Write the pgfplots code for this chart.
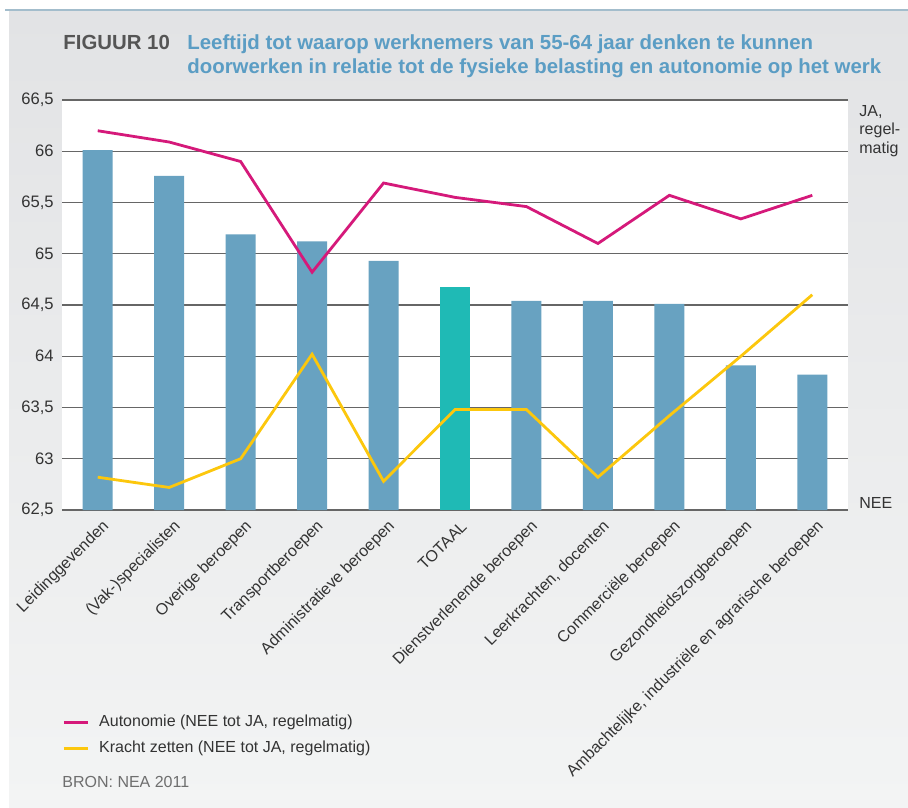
\documentclass[border=0pt]{standalone}
\usepackage{pgfplots}
\pgfplotsset{compat=1.18}
\usepackage{fontspec}
\setmainfont{Liberation Sans}
\newfontfamily\titlefont{Liberation Sans}
\definecolor{barblue}{HTML}{68A2C1}
\definecolor{tealbar}{HTML}{1FBAB5}
\definecolor{magline}{HTML}{D5197A}
\definecolor{yelline}{HTML}{FCC70D}
\definecolor{bgtop}{HTML}{E2E3E5}
\definecolor{bgbot}{HTML}{F3F4F4}
\definecolor{topline}{HTML}{A3BDCC}
\definecolor{titleblue}{HTML}{5B9DC4}
\definecolor{figgray}{HTML}{555555}
\definecolor{txt}{HTML}{333333}
\definecolor{gridc}{HTML}{666666}

\pgfplotstableread{
x y
0 66.01
1 65.76
2 65.19
3 65.12
4 64.93
6 64.54
7 64.54
8 64.51
9 63.91
10 63.82
}\bars
\pgfplotstableread{
x y
5 64.68
}\totaal
\pgfplotstableread{
x y
0 66.20
1 66.09
2 65.90
3 64.82
4 65.69
5 65.55
6 65.46
7 65.10
8 65.57
9 65.34
10 65.57
}\autonomie
\pgfplotstableread{
x y
0 62.82
1 62.72
2 63.00
3 64.02
4 62.78
5 63.48
6 63.48
7 62.82
8 63.42
9 64.00
10 64.60
}\kracht

\begin{document}
\begin{tikzpicture}
\path[use as bounding box] (0,0) rectangle (454pt,-403.5pt);
\shade[top color=bgtop, bottom color=bgbot] (4.5pt,-5pt) rectangle (454pt,-403.5pt);
\draw[topline, line width=1pt] (2.5pt,-5pt) -- (454pt,-5pt);
\node[anchor=base west, inner sep=0pt, text=figgray, font=\titlefont\bfseries\fontsize{10.2}{12}\selectfont] at (31.5pt,-25pt) {FIGUUR 10};
\node[anchor=base west, inner sep=0pt, text=titleblue, font=\titlefont\bfseries\fontsize{10.2}{12}\selectfont] at (93.5pt,-25pt) {Leeftijd tot waarop werknemers van 55-64 jaar denken te kunnen};
\node[anchor=base west, inner sep=0pt, text=titleblue, font=\titlefont\bfseries\fontsize{10.2}{12}\selectfont] at (93.5pt,-37pt) {doorwerken in relatie tot de fysieke belasting en autonomie op het werk};
\node[anchor=base west, inner sep=0pt, text=figgray!85, font=\fontsize{8}{9.6}\selectfont] at (31pt,-393.5pt) {BRON: NEA 2011};
\begin{axis}[
  at={(31pt,-255pt)}, anchor=south west,
  scale only axis, width=393pt, height=205pt,
  xmin=-0.5, xmax=10.5, ymin=62.5, ymax=66.5,
  ytick={62.5,63,63.5,64,64.5,65,65.5,66,66.5},
  xtick={0,...,10},
  xticklabels={Leidinggevenden,(Vak-)specialisten,Overige beroepen,Transportberoepen,Administratieve beroepen,TOTAAL,Dienstverlenende beroepen,{Leerkrachten, docenten},Commerciële beroepen,Gezondheidszorgberoepen,{Ambachtelijke, industriële en agrarische beroepen}},
  /pgf/number format/.cd, use comma, 1000 sep={}, assume math mode=true, /pgfplots/.cd,
  axis line style={draw=none},
  major tick length=0pt,
  tick style={draw=none},
  ymajorgrids,
  grid style={gridc, line width=0.7pt},
  axis background/.style={fill=white},
  yticklabel style={font=\fontsize{8.3}{10}\selectfont, text=txt, inner sep=0pt, xshift=-4pt},
  xticklabel style={font=\fontsize{8}{9.6}\selectfont, text=txt, anchor=east, inner sep=0pt, xshift=4.5pt, yshift=-6.8pt, rotate=45},
  clip=false,
  legend style={at={(axis description cs:0,-0.49)}, anchor=north west, draw=none, fill=none, font=\fontsize{8}{9.6}\selectfont, text=txt, inner sep=0pt, row sep=1.5pt, legend cell align=left},
  legend image code/.code={\draw[#1] (0pt,0pt) -- (12pt,0pt);},
  /tikz/every odd column/.append style={column sep=3pt},
]
\addplot[ybar, bar width=15pt, bar shift=0pt, fill=barblue, draw=none, forget plot] table {\bars};
\addplot[ybar, bar width=15pt, bar shift=0pt, fill=tealbar, draw=none, forget plot] table {\totaal};
\addplot[magline, line width=1.4pt, no marks] table {\autonomie};
\addlegendentry{Autonomie (NEE tot JA, regelmatig)}
\addplot[yelline, line width=1.4pt, no marks] table {\kracht};
\addlegendentry{Kracht zetten (NEE tot JA, regelmatig)}
\node[anchor=north west, align=left, inner sep=0pt, text=txt, font=\fontsize{8}{9.25}\selectfont] at ([xshift=5.5pt, yshift=-2.5pt]rel axis cs:1,1) {JA,\\regel-\\matig};
\node[anchor=base west, inner sep=0pt, text=txt, font=\fontsize{8}{9.25}\selectfont] at ([xshift=5.5pt, yshift=1pt]rel axis cs:1,0) {NEE};
\end{axis}
\end{tikzpicture}
\end{document}
